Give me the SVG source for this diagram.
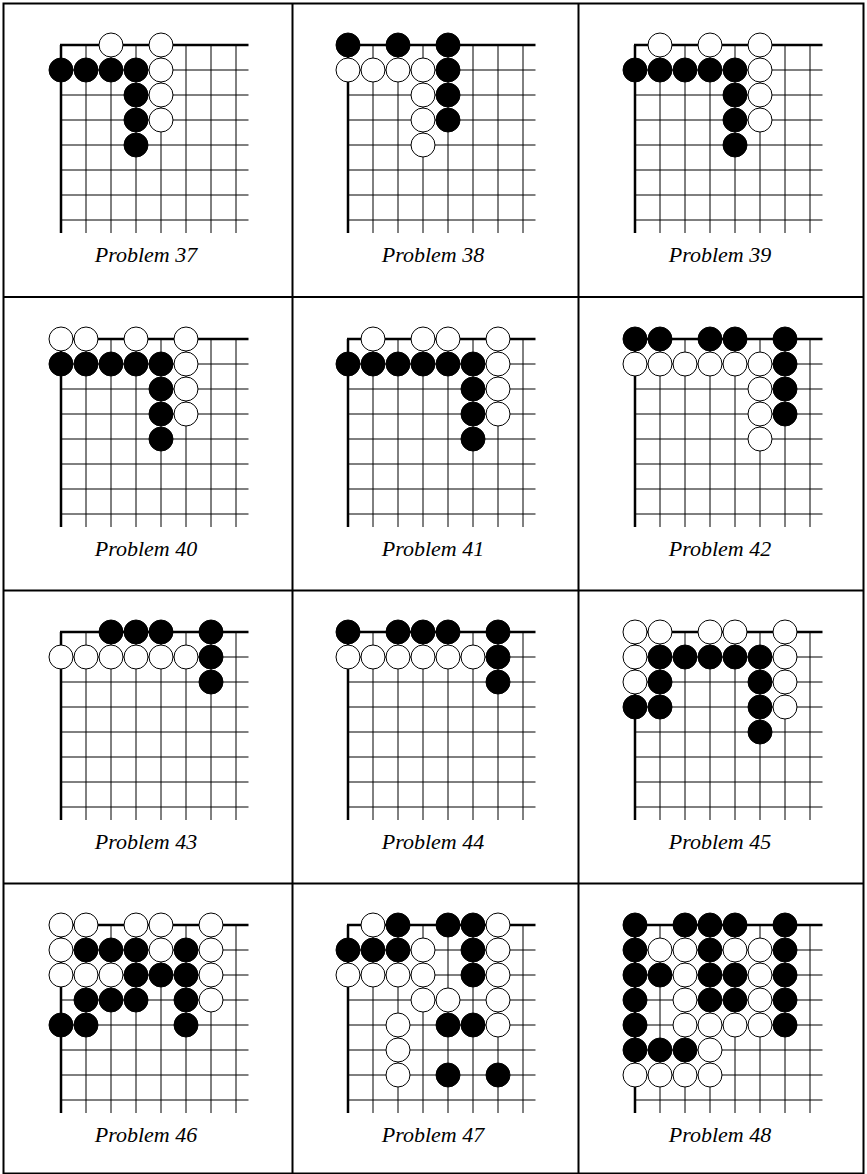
<svg xmlns="http://www.w3.org/2000/svg" xmlns:xlink="http://www.w3.org/1999/xlink" width="867" height="1174" viewBox="0 0 867 1174">
<style>
.bg{fill:#fff}
.tb{fill:none;stroke:#000;stroke-width:2}
.thin{stroke:#000;stroke-width:1}
.thick{stroke:#000;stroke-width:2.5}
.b{fill:#000;stroke:#000;stroke-width:1}
.w{fill:#fff;stroke:#000;stroke-width:1}
.cap{font-family:"Liberation Serif","Times New Roman",serif;font-style:italic;font-size:22px;fill:#000;text-anchor:middle}
</style>
<defs>
<g id="grid">
<path class="thin" d="M0 25H187.5M0 50H187.5M0 75H187.5M0 100H187.5M0 125H187.5M0 150H187.5M0 175H187.5M25 0V188M50 0V188M75 0V188M100 0V188M125 0V188M150 0V188M175 0V188"/>
<path class="thick" d="M-1 0H187.5M0 0V188"/>
</g>
</defs>
<rect class="bg" width="867" height="1174"/>
<g id="table">
<rect class="tb" x="3.5" y="3.5" width="860" height="1170"/>
<path class="tb" d="M292.5 3.5V1174M578.5 3.5V1174M3.5 297H863.5M3.5 590.5H863.5M3.5 883.5H863.5"/>
</g>

<g id="p37" transform="translate(61,45)">
<use href="#grid"/>
<circle class="w" cx="50" cy="0" r="12"/><circle class="w" cx="100" cy="0" r="12"/>
<circle class="w" cx="100" cy="25" r="12"/><circle class="w" cx="100" cy="50" r="12"/><circle class="w" cx="100" cy="75" r="12"/>
<circle class="b" cx="0" cy="25" r="12"/><circle class="b" cx="25" cy="25" r="12"/><circle class="b" cx="50" cy="25" r="12"/><circle class="b" cx="75" cy="25" r="12"/>
<circle class="b" cx="75" cy="50" r="12"/><circle class="b" cx="75" cy="75" r="12"/><circle class="b" cx="75" cy="100" r="12"/>
<text class="cap" x="85" y="217">Problem 37</text>
</g>

<g id="p38" transform="translate(348,45)">
<use href="#grid"/>
<circle class="b" cx="0" cy="0" r="12"/><circle class="b" cx="50" cy="0" r="12"/><circle class="b" cx="100" cy="0" r="12"/>
<circle class="b" cx="100" cy="25" r="12"/><circle class="b" cx="100" cy="50" r="12"/><circle class="b" cx="100" cy="75" r="12"/>
<circle class="w" cx="0" cy="25" r="12"/><circle class="w" cx="25" cy="25" r="12"/><circle class="w" cx="50" cy="25" r="12"/><circle class="w" cx="75" cy="25" r="12"/>
<circle class="w" cx="75" cy="50" r="12"/><circle class="w" cx="75" cy="75" r="12"/><circle class="w" cx="75" cy="100" r="12"/>
<text class="cap" x="85" y="217">Problem 38</text>
</g>

<g id="p39" transform="translate(635,45)">
<use href="#grid"/>
<circle class="w" cx="25" cy="0" r="12"/><circle class="w" cx="75" cy="0" r="12"/><circle class="w" cx="125" cy="0" r="12"/>
<circle class="w" cx="125" cy="25" r="12"/><circle class="w" cx="125" cy="50" r="12"/><circle class="w" cx="125" cy="75" r="12"/>
<circle class="b" cx="0" cy="25" r="12"/><circle class="b" cx="25" cy="25" r="12"/><circle class="b" cx="50" cy="25" r="12"/><circle class="b" cx="75" cy="25" r="12"/><circle class="b" cx="100" cy="25" r="12"/>
<circle class="b" cx="100" cy="50" r="12"/><circle class="b" cx="100" cy="75" r="12"/><circle class="b" cx="100" cy="100" r="12"/>
<text class="cap" x="85" y="217">Problem 39</text>
</g>

<g id="p40" transform="translate(61,339)">
<use href="#grid"/>
<circle class="w" cx="0" cy="0" r="12"/><circle class="w" cx="25" cy="0" r="12"/><circle class="w" cx="75" cy="0" r="12"/><circle class="w" cx="125" cy="0" r="12"/>
<circle class="w" cx="125" cy="25" r="12"/><circle class="w" cx="125" cy="50" r="12"/><circle class="w" cx="125" cy="75" r="12"/>
<circle class="b" cx="0" cy="25" r="12"/><circle class="b" cx="25" cy="25" r="12"/><circle class="b" cx="50" cy="25" r="12"/><circle class="b" cx="75" cy="25" r="12"/><circle class="b" cx="100" cy="25" r="12"/>
<circle class="b" cx="100" cy="50" r="12"/><circle class="b" cx="100" cy="75" r="12"/><circle class="b" cx="100" cy="100" r="12"/>
<text class="cap" x="85" y="217">Problem 40</text>
</g>

<g id="p41" transform="translate(348,339)">
<use href="#grid"/>
<circle class="w" cx="25" cy="0" r="12"/><circle class="w" cx="75" cy="0" r="12"/><circle class="w" cx="100" cy="0" r="12"/><circle class="w" cx="150" cy="0" r="12"/>
<circle class="w" cx="150" cy="25" r="12"/><circle class="w" cx="150" cy="50" r="12"/><circle class="w" cx="150" cy="75" r="12"/>
<circle class="b" cx="0" cy="25" r="12"/><circle class="b" cx="25" cy="25" r="12"/><circle class="b" cx="50" cy="25" r="12"/><circle class="b" cx="75" cy="25" r="12"/><circle class="b" cx="100" cy="25" r="12"/><circle class="b" cx="125" cy="25" r="12"/>
<circle class="b" cx="125" cy="50" r="12"/><circle class="b" cx="125" cy="75" r="12"/><circle class="b" cx="125" cy="100" r="12"/>
<text class="cap" x="85" y="217">Problem 41</text>
</g>

<g id="p42" transform="translate(635,339)">
<use href="#grid"/>
<circle class="b" cx="0" cy="0" r="12"/><circle class="b" cx="25" cy="0" r="12"/><circle class="b" cx="75" cy="0" r="12"/><circle class="b" cx="100" cy="0" r="12"/><circle class="b" cx="150" cy="0" r="12"/>
<circle class="b" cx="150" cy="25" r="12"/><circle class="b" cx="150" cy="50" r="12"/><circle class="b" cx="150" cy="75" r="12"/>
<circle class="w" cx="0" cy="25" r="12"/><circle class="w" cx="25" cy="25" r="12"/><circle class="w" cx="50" cy="25" r="12"/><circle class="w" cx="75" cy="25" r="12"/><circle class="w" cx="100" cy="25" r="12"/><circle class="w" cx="125" cy="25" r="12"/>
<circle class="w" cx="125" cy="50" r="12"/><circle class="w" cx="125" cy="75" r="12"/><circle class="w" cx="125" cy="100" r="12"/>
<text class="cap" x="85" y="217">Problem 42</text>
</g>

<g id="p43" transform="translate(61,632)">
<use href="#grid"/>
<circle class="b" cx="50" cy="0" r="12"/><circle class="b" cx="75" cy="0" r="12"/><circle class="b" cx="100" cy="0" r="12"/><circle class="b" cx="150" cy="0" r="12"/>
<circle class="b" cx="150" cy="25" r="12"/><circle class="b" cx="150" cy="50" r="12"/>
<circle class="w" cx="0" cy="25" r="12"/><circle class="w" cx="25" cy="25" r="12"/><circle class="w" cx="50" cy="25" r="12"/><circle class="w" cx="75" cy="25" r="12"/><circle class="w" cx="100" cy="25" r="12"/><circle class="w" cx="125" cy="25" r="12"/>
<text class="cap" x="85" y="217">Problem 43</text>
</g>

<g id="p44" transform="translate(348,632)">
<use href="#grid"/>
<circle class="b" cx="0" cy="0" r="12"/><circle class="b" cx="50" cy="0" r="12"/><circle class="b" cx="75" cy="0" r="12"/><circle class="b" cx="100" cy="0" r="12"/><circle class="b" cx="150" cy="0" r="12"/>
<circle class="b" cx="150" cy="25" r="12"/><circle class="b" cx="150" cy="50" r="12"/>
<circle class="w" cx="0" cy="25" r="12"/><circle class="w" cx="25" cy="25" r="12"/><circle class="w" cx="50" cy="25" r="12"/><circle class="w" cx="75" cy="25" r="12"/><circle class="w" cx="100" cy="25" r="12"/><circle class="w" cx="125" cy="25" r="12"/>
<text class="cap" x="85" y="217">Problem 44</text>
</g>

<g id="p45" transform="translate(635,632)">
<use href="#grid"/>
<circle class="w" cx="0" cy="0" r="12"/><circle class="w" cx="25" cy="0" r="12"/><circle class="w" cx="75" cy="0" r="12"/><circle class="w" cx="100" cy="0" r="12"/><circle class="w" cx="150" cy="0" r="12"/>
<circle class="w" cx="0" cy="25" r="12"/><circle class="b" cx="25" cy="25" r="12"/><circle class="b" cx="50" cy="25" r="12"/><circle class="b" cx="75" cy="25" r="12"/><circle class="b" cx="100" cy="25" r="12"/><circle class="b" cx="125" cy="25" r="12"/><circle class="w" cx="150" cy="25" r="12"/>
<circle class="w" cx="0" cy="50" r="12"/><circle class="b" cx="25" cy="50" r="12"/><circle class="b" cx="125" cy="50" r="12"/><circle class="w" cx="150" cy="50" r="12"/>
<circle class="b" cx="0" cy="75" r="12"/><circle class="b" cx="25" cy="75" r="12"/><circle class="b" cx="125" cy="75" r="12"/><circle class="w" cx="150" cy="75" r="12"/>
<circle class="b" cx="125" cy="100" r="12"/>
<text class="cap" x="85" y="217">Problem 45</text>
</g>

<g id="p46" transform="translate(61,925)">
<use href="#grid"/>
<circle class="w" cx="0" cy="0" r="12"/><circle class="w" cx="25" cy="0" r="12"/><circle class="w" cx="75" cy="0" r="12"/><circle class="w" cx="100" cy="0" r="12"/><circle class="w" cx="150" cy="0" r="12"/>
<circle class="w" cx="0" cy="25" r="12"/><circle class="b" cx="25" cy="25" r="12"/><circle class="b" cx="50" cy="25" r="12"/><circle class="b" cx="75" cy="25" r="12"/><circle class="w" cx="100" cy="25" r="12"/><circle class="b" cx="125" cy="25" r="12"/><circle class="w" cx="150" cy="25" r="12"/>
<circle class="w" cx="0" cy="50" r="12"/><circle class="w" cx="25" cy="50" r="12"/><circle class="w" cx="50" cy="50" r="12"/><circle class="b" cx="75" cy="50" r="12"/><circle class="b" cx="100" cy="50" r="12"/><circle class="b" cx="125" cy="50" r="12"/><circle class="w" cx="150" cy="50" r="12"/>
<circle class="b" cx="25" cy="75" r="12"/><circle class="b" cx="50" cy="75" r="12"/><circle class="b" cx="75" cy="75" r="12"/><circle class="b" cx="125" cy="75" r="12"/><circle class="w" cx="150" cy="75" r="12"/>
<circle class="b" cx="0" cy="100" r="12"/><circle class="b" cx="25" cy="100" r="12"/><circle class="b" cx="125" cy="100" r="12"/>
<text class="cap" x="85" y="217">Problem 46</text>
</g>

<g id="p47" transform="translate(348,925)">
<use href="#grid"/>
<circle class="w" cx="25" cy="0" r="12"/><circle class="b" cx="50" cy="0" r="12"/><circle class="b" cx="100" cy="0" r="12"/><circle class="b" cx="125" cy="0" r="12"/><circle class="w" cx="150" cy="0" r="12"/>
<circle class="b" cx="0" cy="25" r="12"/><circle class="b" cx="25" cy="25" r="12"/><circle class="b" cx="50" cy="25" r="12"/><circle class="w" cx="75" cy="25" r="12"/><circle class="b" cx="125" cy="25" r="12"/><circle class="w" cx="150" cy="25" r="12"/>
<circle class="w" cx="0" cy="50" r="12"/><circle class="w" cx="25" cy="50" r="12"/><circle class="w" cx="50" cy="50" r="12"/><circle class="w" cx="75" cy="50" r="12"/><circle class="b" cx="125" cy="50" r="12"/><circle class="w" cx="150" cy="50" r="12"/>
<circle class="w" cx="75" cy="75" r="12"/><circle class="w" cx="100" cy="75" r="12"/><circle class="w" cx="150" cy="75" r="12"/>
<circle class="w" cx="50" cy="100" r="12"/><circle class="b" cx="100" cy="100" r="12"/><circle class="b" cx="125" cy="100" r="12"/><circle class="w" cx="150" cy="100" r="12"/>
<circle class="w" cx="50" cy="125" r="12"/>
<circle class="w" cx="50" cy="150" r="12"/><circle class="b" cx="100" cy="150" r="12"/><circle class="b" cx="150" cy="150" r="12"/>
<text class="cap" x="85" y="217">Problem 47</text>
</g>

<g id="p48" transform="translate(635,925)">
<use href="#grid"/>
<circle class="b" cx="0" cy="0" r="12"/><circle class="b" cx="50" cy="0" r="12"/><circle class="b" cx="75" cy="0" r="12"/><circle class="b" cx="100" cy="0" r="12"/><circle class="b" cx="150" cy="0" r="12"/>
<circle class="b" cx="0" cy="25" r="12"/><circle class="w" cx="25" cy="25" r="12"/><circle class="w" cx="50" cy="25" r="12"/><circle class="b" cx="75" cy="25" r="12"/><circle class="w" cx="100" cy="25" r="12"/><circle class="w" cx="125" cy="25" r="12"/><circle class="b" cx="150" cy="25" r="12"/>
<circle class="b" cx="0" cy="50" r="12"/><circle class="b" cx="25" cy="50" r="12"/><circle class="w" cx="50" cy="50" r="12"/><circle class="b" cx="75" cy="50" r="12"/><circle class="b" cx="100" cy="50" r="12"/><circle class="w" cx="125" cy="50" r="12"/><circle class="b" cx="150" cy="50" r="12"/>
<circle class="b" cx="0" cy="75" r="12"/><circle class="w" cx="50" cy="75" r="12"/><circle class="b" cx="75" cy="75" r="12"/><circle class="b" cx="100" cy="75" r="12"/><circle class="w" cx="125" cy="75" r="12"/><circle class="b" cx="150" cy="75" r="12"/>
<circle class="b" cx="0" cy="100" r="12"/><circle class="w" cx="50" cy="100" r="12"/><circle class="w" cx="75" cy="100" r="12"/><circle class="w" cx="100" cy="100" r="12"/><circle class="w" cx="125" cy="100" r="12"/><circle class="b" cx="150" cy="100" r="12"/>
<circle class="b" cx="0" cy="125" r="12"/><circle class="b" cx="25" cy="125" r="12"/><circle class="b" cx="50" cy="125" r="12"/><circle class="w" cx="75" cy="125" r="12"/>
<circle class="w" cx="0" cy="150" r="12"/><circle class="w" cx="25" cy="150" r="12"/><circle class="w" cx="50" cy="150" r="12"/><circle class="w" cx="75" cy="150" r="12"/>
<text class="cap" x="85" y="217">Problem 48</text>
</g>
</svg>
